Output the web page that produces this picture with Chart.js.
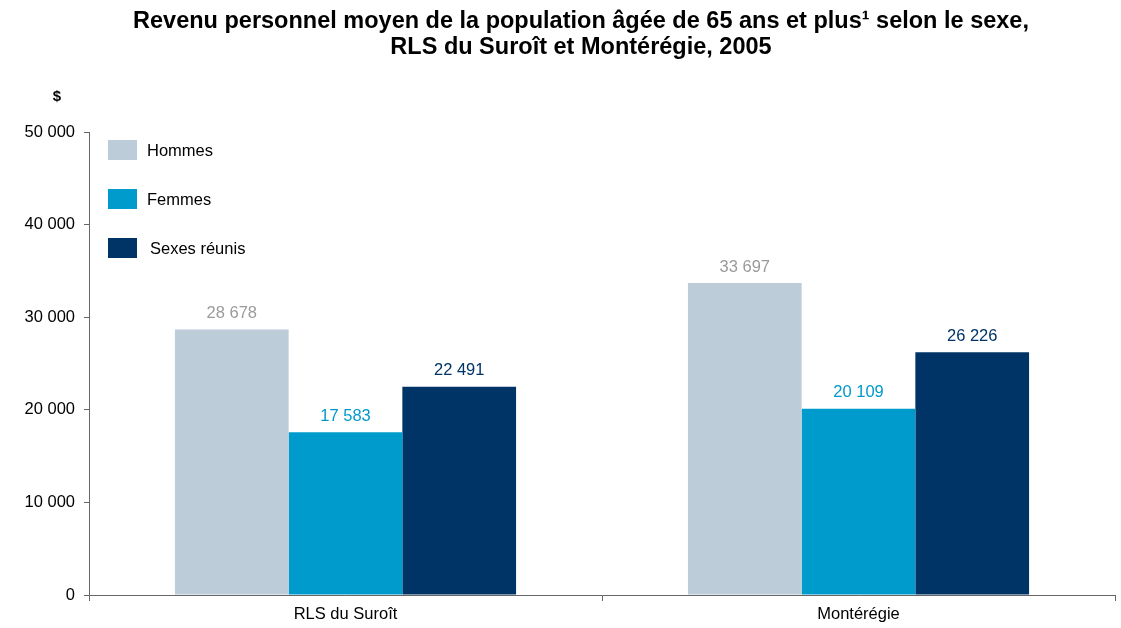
<!DOCTYPE html>
<html>
<head>
<meta charset="utf-8">
<script src="https://cdn.jsdelivr.net/npm/chart.js@4.4.1/dist/chart.umd.min.js"></script>
<style>
  html, body { margin: 0; padding: 0; background: #fff; }
  #wrap { width: 1121px; height: 628px; position: relative; }
</style>
</head>
<body>
<div id="wrap"><canvas id="c"></canvas></div>
<script>
const categories = ["RLS du Suroît", "Montérégie"];
const seriesNames = ["Hommes", "Femmes", "Sexes réunis"];
const hommes = [28678, 33697];
const femmes = [17583, 20109];
const sexesReunis = [22491, 26226];
const yTicks = [0, 10000, 20000, 30000, 40000, 50000];
const titleLines = ["Revenu personnel moyen de la population âgée de 65 ans et plus¹ selon le sexe,", "RLS du Suroît et Montérégie, 2005"];
const yUnit = "$";

const barColors = ["#BDCCD9", "#009BCD", "#003366"];
const labelColors = ["#9A9A9A", "#0099CC", "#003366"];
const FONT = "Arial, 'Liberation Sans', sans-serif";
const FS = 16.5;

function fmt(v) { return String(v).replace(/\B(?=(\d{3})+(?!\d))/g, "\u00a0"); }

const overlay = {
  id: "overlay",
  afterDatasetsDraw(chart) {
    const ctx = chart.ctx;
    const ca = chart.chartArea;
    ctx.save();
    // value labels
    chart.data.datasets.forEach((ds, i) => {
      const meta = chart.getDatasetMeta(i);
      meta.data.forEach((bar, j) => {
        ctx.fillStyle = labelColors[i];
        ctx.font = FS + "px " + FONT;
        ctx.textAlign = "center";
        ctx.textBaseline = "middle";
        ctx.fillText(fmt(ds.data[j]), bar.x, bar.y - 16);
      });
    });
    // legend
    chart.data.datasets.forEach((ds, i) => {
      const bx = ca.left + 19, by = ca.top + 8 + i * 49;
      ctx.fillStyle = barColors[i];
      ctx.fillRect(bx, by, 29, 20);
      ctx.fillStyle = "#000";
      ctx.font = FS + "px " + FONT;
      ctx.textAlign = "left";
      ctx.textBaseline = "middle";
      ctx.fillText(ds.label, bx + 39 + (i === 2 ? 3 : 0), by + 11);
    });
    // title
    ctx.fillStyle = "#000";
    ctx.font = "bold 23.5px " + FONT;
    ctx.textAlign = "center";
    ctx.textBaseline = "middle";
    titleLines.forEach((t, k) => ctx.fillText(t, 581, 22 + k * 26));
    // unit
    ctx.font = "bold 15px " + FONT;
    ctx.fillText(yUnit, 57, 97);
    ctx.restore();
  }
};

new Chart(document.getElementById("c"), {
  type: "bar",
  data: {
    labels: categories,
    datasets: [
      { label: seriesNames[0], data: hommes, backgroundColor: barColors[0] },
      { label: seriesNames[1], data: femmes, backgroundColor: barColors[1] },
      { label: seriesNames[2], data: sexesReunis, backgroundColor: barColors[2] }
    ]
  },
  options: {
    responsive: true,
    maintainAspectRatio: false,
    animation: false,
    layout: { padding: { top: 132, right: 6, left: 0, bottom: 0 } },
    plugins: { legend: { display: false }, title: { display: false }, tooltip: { enabled: false } },
    datasets: { bar: { categoryPercentage: 0.665, barPercentage: 1.0 } },
    scales: {
      x: {
        offset: true,
        grid: { display: true, drawOnChartArea: false, offset: true, tickLength: 6, color: "#666" },
        border: { color: "#666", width: 1 },
        ticks: { color: "#000", font: { family: FONT, size: FS }, padding: 4 },
        afterFit(s) { s.height = 33; }
      },
      y: {
        min: 0, max: 50000,
        afterBuildTicks(s) { s.ticks = yTicks.map(v => ({ value: v })); },
        grid: { display: true, drawOnChartArea: false, tickLength: 5, color: "#666" },
        border: { color: "#666", width: 1 },
        ticks: { color: "#000", font: { family: FONT, size: FS }, padding: 9, callback: v => fmt(v) },
        afterFit(s) { s.width = 89; }
      }
    }
  },
  plugins: [overlay]
});
</script>
</body>
</html>
